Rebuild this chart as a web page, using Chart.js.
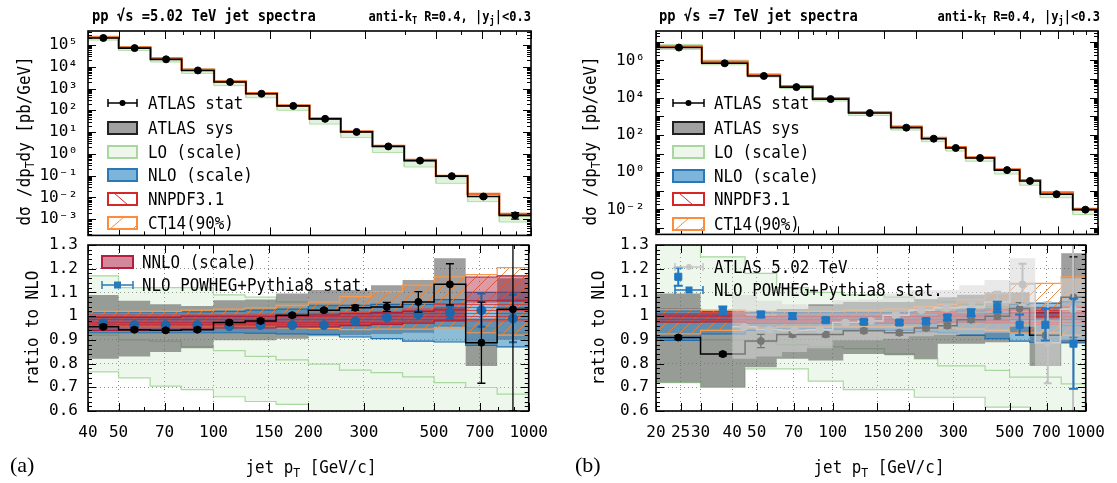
<!DOCTYPE html>
<html>
<head>
<meta charset="utf-8">
<script src="https://cdn.jsdelivr.net/npm/chart.js@4.4.1/dist/chart.umd.min.js"></script>
<style>
  body { margin: 0; background: #fff; width: 1117px; height: 483px; position: relative; overflow: hidden; }
  canvas { position: absolute; }
</style>
</head>
<body>
<canvas id="topA" width="560" height="255" style="left:0;top:0"></canvas>
<canvas id="ratioA" width="560" height="258" style="left:0;top:225px"></canvas>
<canvas id="topB" width="557" height="255" style="left:560px;top:0"></canvas>
<canvas id="ratioB" width="557" height="258" style="left:560px;top:225px"></canvas>
<script>
const FONT = 'DejaVu Sans Mono';

// ---- (a) pp 5.02 TeV ----
const edgesA = [40, 50, 63, 79, 100, 126, 158, 200, 251, 316, 398, 501, 631, 794, 1000];
const specA = [2.1e5, 7.2e4, 2.2e4, 6.8e3, 2.0e3, 580, 160, 40.5, 10.2, 2.2, 0.49, 0.095, 0.011, 1.5e-3];
const specErrA = [3e3, 1e3, 300, 90, 25, 7, 2, 0.5, 0.13, 0.04, 0.012, 0.004, 0.0012, 0.0005];
const loTopHiA = [2.57e5, 8.55e4, 2.6e4, 8.1e3, 2.24e3, 640, 169, 41, 10.05, 2.12, 0.453, 0.080, 0.0118, 1.36e-3];
const loTopLoA = [1.68e5, 5.65e4, 1.65e4, 4.98e3, 1.36e3, 379, 100, 23.3, 5.6, 1.16, 0.25, 0.0444, 0.0064, 7.4e-4];
const ct14TopA = [2.24e5, 7.79e4, 2.39e4, 7.39e3, 2.12e3, 613, 166.5, 41.9, 10.66, 2.34, 0.523, 0.0977, 0.01456, 1.76e-3];

const ratioA = [0.955, 0.943, 0.940, 0.943, 0.973, 0.980, 1.004, 1.025, 1.035, 1.039, 1.060, 1.134, 0.888, 1.029];
const ratioErrA = [0.008, 0.007, 0.007, 0.007, 0.008, 0.008, 0.008, 0.007, 0.011, 0.019, 0.043, 0.087, 0.171, 0.6];
const sysHiA = [1.089, 1.065, 1.05, 1.043, 1.067, 1.07, 1.096, 1.11, 1.11, 1.13, 1.152, 1.244, 0.99, 1.16];
const sysLoA = [0.82, 0.83, 0.849, 0.865, 0.898, 0.898, 0.905, 0.915, 0.92, 0.925, 0.93, 0.955, 0.79, 0.9];
const nloHiA = [1.018, 1.018, 1.018, 1.018, 1.02, 1.025, 1.03, 1.046, 1.046, 1.05, 1.05, 1.07, 1.10, 1.10];
const nloLoA = [0.93, 0.93, 0.93, 0.93, 0.93, 0.928, 0.925, 0.923, 0.912, 0.905, 0.895, 0.891, 0.877, 0.87];
const loHiA = [1.17, 1.12, 1.12, 1.12, 1.09, 1.08, 1.06, 1.04, 1.02, 1.0, 0.98, 0.96, 0.95, 0.93];
const loLoA = [0.765, 0.74, 0.705, 0.69, 0.66, 0.64, 0.628, 0.59, 0.57, 0.55, 0.54, 0.53, 0.52, 0.51];
const loMidA = [0.92, 0.90, 0.895, 0.87, 0.855, 0.83, 0.816, 0.798, 0.772, 0.762, 0.744, 0.72, 0.699, 0.671];
const ct14HiA = [1.02, 1.02, 1.02, 1.025, 1.03, 1.035, 1.045, 1.06, 1.082, 1.103, 1.131, 1.166, 1.175, 1.205];
const ct14LoA = [0.955, 0.955, 0.955, 0.955, 0.955, 0.955, 0.95, 0.948, 0.943, 0.945, 0.945, 0.95, 0.93, 0.92];
const nnpdfHiA = [1.005, 1.005, 1.005, 1.005, 1.005, 1.008, 1.01, 1.012, 1.015, 1.02, 1.03, 1.053, 1.06, 1.07];
const nnpdfLoA = [0.965, 0.965, 0.965, 0.965, 0.965, 0.965, 0.965, 0.965, 0.965, 0.97, 0.975, 0.983, 0.98, 0.98];
const nnloHiA = [0.995, 0.995, 0.995, 1.0, 1.0, 1.0, 1.0, 1.005, 1.01, 1.015, 1.02, 1.03, 1.165, 1.17];
const nnloLoA = [0.94, 0.94, 0.94, 0.945, 0.95, 0.95, 0.955, 0.955, 0.96, 0.965, 0.97, 0.98, 1.065, 1.065];
const powhegA = [0.969, 0.962, 0.962, 0.962, 0.957, 0.962, 0.962, 0.962, 0.978, 0.994, 1.008, 1.015, 1.025, 0.99];
const powhegErrA = [0.008, 0.005, 0.005, 0.005, 0.005, 0.005, 0.005, 0.006, 0.008, 0.01, 0.012, 0.025, 0.07, 0.1];

// ---- (b) pp 7 TeV ----
const edgesB = [20, 30, 45, 60, 80, 110, 160, 210, 260, 310, 400, 500, 600, 800, 1000];
const specB = [4.9e6, 7.0e5, 1.47e5, 3.7e4, 8.4e3, 1.5e3, 247, 63, 20, 5.8, 1.3, 0.34, 0.066, 0.0098];
const specErrB = [3e5, 3e4, 5e3, 1.2e3, 250, 45, 7, 2, 0.6, 0.18, 0.04, 0.012, 0.003, 0.0007];
const loTopHiB = [7.3e6, 1.04e6, 1.94e5, 4.5e4, 1.0e4, 1.74e3, 287, 71, 22, 6.2, 1.35, 0.34, 0.073, 0.0091];
const loTopLoB = [3.9e6, 5.8e5, 1.28e5, 3.1e4, 6.6e3, 1.1e3, 183, 43.6, 13.7, 3.9, 0.8, 0.2, 0.043, 0.0054];
const ct14TopB = [5.55e6, 8.54e5, 1.675e5, 4.09e4, 9.28e3, 1.64e3, 273.6, 69, 21.9, 6.3, 1.42, 0.375, 0.0817, 0.01058];

const ratioB = [0.91, 0.84, 0.895, 0.923, 0.923, 0.938, 0.93, 0.95, 0.96, 0.985, 1.0, 1.032, 0.919, 1.08];
const ratioErrB = [0.008, 0.008, 0.028, 0.01, 0.01, 0.01, 0.01, 0.01, 0.01, 0.01, 0.012, 0.025, 0.03, 0.17];
const sysHiB = [1.096, 1.02, 1.0, 1.03, 1.05, 1.06, 1.06, 1.07, 1.08, 1.09, 1.10, 1.10, 1.04, 1.265];
const sysLoB = [0.72, 0.70, 0.785, 0.82, 0.813, 0.84, 0.835, 0.82, 0.884, 0.884, 0.89, 0.93, 0.79, 0.884];
const nloHiB = [1.032, 1.02, 1.015, 1.015, 1.015, 1.015, 1.015, 1.02, 1.02, 1.025, 1.03, 1.05, 1.055, 1.06];
const nloLoB = [0.898, 0.925, 0.94, 0.945, 0.945, 0.945, 0.94, 0.935, 0.93, 0.919, 0.905, 0.895, 0.89, 0.89];
const loHiB = [1.35, 1.25, 1.18, 1.12, 1.10, 1.09, 1.08, 1.07, 1.06, 1.05, 1.04, 1.03, 1.02, 1.0];
const loLoB = [0.72, 0.70, 0.778, 0.778, 0.726, 0.69, 0.69, 0.658, 0.658, 0.658, 0.616, 0.616, 0.60, 0.59];
const loMidB = [0.92, 0.90, 0.89, 0.88, 0.87, 0.863, 0.841, 0.82, 0.79, 0.79, 0.771, 0.743, 0.743, 0.714];
const ct14HiB = [1.03, 1.025, 1.02, 1.02, 1.02, 1.025, 1.03, 1.04, 1.05, 1.07, 1.095, 1.138, 1.138, 1.166];
const ct14LoB = [0.925, 0.94, 0.95, 0.955, 0.955, 0.955, 0.955, 0.95, 0.95, 0.945, 0.94, 0.93, 0.93, 0.92];
const nnpdfHiB = [1.02, 1.015, 1.01, 1.01, 1.01, 1.01, 1.01, 1.015, 1.015, 1.02, 1.025, 1.03, 1.035, 1.04];
const nnpdfLoB = [0.975, 0.98, 0.98, 0.98, 0.98, 0.98, 0.98, 0.98, 0.975, 0.975, 0.97, 0.97, 0.965, 0.96];
const nnloHiB = [1.005, 1.005, 1.0, 1.0, 1.0, 1.0, 1.0, 1.0, 1.005, 1.005, 1.01, 1.015, 1.015, 1.015];
const nnloLoB = [0.975, 0.975, 0.97, 0.97, 0.97, 0.97, 0.97, 0.97, 0.975, 0.975, 0.98, 0.985, 0.985, 0.985];
const powhegB = [1.166, 1.025, 1.007, 1.0, 0.983, 0.976, 0.973, 0.979, 0.994, 1.015, 1.039, 0.964, 0.964, 0.884];
const powhegErrB = [0.038, 0.016, 0.012, 0.012, 0.008, 0.008, 0.008, 0.01, 0.012, 0.014, 0.022, 0.043, 0.067, 0.19];

// ---- ticks ----
const xTicksA = [40, 50, 70, 100, 150, 200, 300, 500, 700, 1000];
const xTicksB = [20, 25, 30, 40, 50, 70, 100, 150, 200, 300, 500, 700, 1000];
const yTicksTopA = [1e-3, 1e-2, 1e-1, 1, 10, 100, 1e3, 1e4, 1e5];
const yTicksTopB = [1e-2, 1, 1e2, 1e4, 1e6];
const yTicksRatio = [0.6, 0.7, 0.8, 0.9, 1.0, 1.1, 1.2, 1.3];

// ---- helpers ----
const step = (edges, vals) => vals.flatMap((v, i) => [{x: edges[i], y: v}, {x: edges[i + 1], y: v}]);
const centers = edges => edges.slice(0, -1).map((e, i) => Math.sqrt(e * edges[i + 1]));

function band(edges, lo, hi, fill, border, bw) {
  return [
    {data: step(edges, lo), borderColor: border, borderWidth: bw, fill: false},
    {data: step(edges, hi), borderColor: border, borderWidth: bw, backgroundColor: fill, fill: '-1'}
  ];
}
function line(edges, vals, color, w) {
  return {data: step(edges, vals), borderColor: color, borderWidth: w, fill: false};
}
function points(edges, vals, err, color, style, r, capW, errW) {
  return {
    data: centers(edges).map((x, i) => ({x, y: vals[i]})),
    showLine: false, pointRadius: r, pointStyle: style,
    pointBackgroundColor: color, pointBorderColor: color,
    err, errColor: color, capW, errW
  };
}
function hatch(color, kind, s) {
  const c = document.createElement('canvas');
  c.width = c.height = s;
  const g = c.getContext('2d');
  g.strokeStyle = color; g.lineWidth = 1;
  g.beginPath();
  if (kind === '/') {
    g.moveTo(0, s); g.lineTo(s, 0);
    g.moveTo(-1, 1); g.lineTo(1, -1);
    g.moveTo(s - 1, s + 1); g.lineTo(s + 1, s - 1);
  } else {
    g.moveTo(0, s / 2); g.lineTo(s, s / 2);
  }
  g.stroke();
  return g.createPattern(c, 'repeat');
}
function logMinors(min, max) {
  const out = [];
  for (let e = Math.floor(Math.log10(min)); e <= Math.ceil(Math.log10(max)); e++)
    for (let k = 1; k < 10; k++) { const v = k * Math.pow(10, e); if (v >= min && v <= max) out.push(v); }
  return out;
}
function decades(min, max) {
  const out = [];
  for (let e = Math.ceil(Math.log10(min)); e <= Math.floor(Math.log10(max)); e++) out.push(Math.pow(10, e));
  return out;
}
const SUP = {'-': '⁻', '0': '⁰', '1': '¹', '2': '²', '3': '³', '4': '⁴', '5': '⁵', '6': '⁶', '7': '⁷', '8': '⁸', '9': '⁹'};
const supLabel = v => '10' + String(Math.round(Math.log10(v))).split('').map(c => SUP[c]).join('');

function rich(ctx, parts, x, y, o) {
  const size = o.size || 18, sx = o.sx || 1, wt = o.bold ? 'bold ' : '';
  const fam = o.family || FONT;
  const fontFor = p => wt + (p[1] ? Math.round(size * 0.7) : size) + 'px "' + fam + '"';
  let w = 0;
  parts.forEach(p => { ctx.font = fontFor(p); w += ctx.measureText(p[0]).width; });
  ctx.save();
  ctx.translate(x, y);
  if (o.rot) ctx.rotate(o.rot);
  ctx.scale(sx, 1);
  let cx = o.align === 'center' ? -w / 2 : o.align === 'right' ? -w : 0;
  ctx.textBaseline = 'middle';
  ctx.fillStyle = '#000';
  parts.forEach(p => {
    ctx.font = fontFor(p);
    const dy = p[1] === 'sub' ? size * 0.32 : p[1] === 'sup' ? -size * 0.35 : 0;
    ctx.fillText(p[0], cx, dy);
    cx += ctx.measureText(p[0]).width;
  });
  ctx.restore();
}

function drawLegend(ctx, L, ox, oy) {
  L.items.forEach(it => {
    const y = it.y - oy, x0 = L.x0 - ox, x1 = L.x1 - ox, cx = (x0 + x1) / 2;
    if (it.kind === 'err') {
      ctx.strokeStyle = it.color; ctx.lineWidth = 1.5;
      ctx.beginPath();
      ctx.moveTo(x0, y); ctx.lineTo(x1, y);
      ctx.moveTo(x0, y - 4); ctx.lineTo(x0, y + 4);
      ctx.moveTo(x1, y - 4); ctx.lineTo(x1, y + 4);
      ctx.stroke();
      ctx.fillStyle = it.color;
      ctx.beginPath();
      if (it.marker === 'rect') ctx.rect(cx - 3.5, y - 3.5, 7, 7); else ctx.arc(cx, y, 3, 0, 2 * Math.PI);
      ctx.fill();
    } else {
      ctx.fillStyle = it.fill;
      ctx.fillRect(x0, y - 6, x1 - x0, 12);
      if (it.hatch) {
        ctx.strokeStyle = it.stroke; ctx.lineWidth = 1;
        ctx.beginPath();
        if (it.hatch === '/') { ctx.moveTo(x0 + 2, y + 6); ctx.lineTo(x0 + 16, y - 6); ctx.moveTo(x1 - 4, y + 6); ctx.lineTo(x1, y + 2); }
        else { ctx.moveTo(x0 + 6, y - 6); ctx.lineTo(x0 + 20, y + 6); }
        ctx.stroke();
      }
      ctx.strokeStyle = it.stroke; ctx.lineWidth = 2;
      ctx.strokeRect(x0, y - 6, x1 - x0, 12);
    }
    rich(ctx, [[it.text]], L.tx - ox, y + 1, {size: 18, sx: 0.88});
  });
}

const ratioMinors = Array.from({length: 36}, (_, i) => (30 + i) * 0.02);

const DECO = {
  topA: {
    off: [0, 0], xMajor: xTicksA, xMinor: logMinors(40, 1000),
    yMajor: decades(1.8e-4, 4.4e5), yMinor: logMinors(1.8e-4, 4.4e5),
    texts: [
      {parts: [['pp '], ['√s'], [' =5.02 TeV jet spectra']], x: 92, y: 17, size: 16, sx: 0.86, bold: true},
      {parts: [['anti-k'], ['T', 'sub'], [' R=0.4, |y'], ['j', 'sub'], ['|<0.3']], x: 531, y: 17, size: 14, sx: 0.86, bold: true, align: 'right'},
      {parts: [['dσ /dp'], ['T', 'sub'], ['dy [pb/GeV]']], x: 25, y: 141, rot: -Math.PI / 2, align: 'center', sx: 0.88}
    ],
    legend: {x0: 108, x1: 137, tx: 148, items: [
      {kind: 'err', y: 103, color: '#000', marker: 'circle', text: 'ATLAS stat'},
      {kind: 'box', y: 128, fill: '#a0a0a0', stroke: '#222', text: 'ATLAS sys'},
      {kind: 'box', y: 152, fill: '#eef6ec', stroke: '#a8d8a0', text: 'LO (scale)'},
      {kind: 'box', y: 175, fill: '#7db4da', stroke: '#2a78b8', text: 'NLO (scale)'},
      {kind: 'box', y: 199, fill: '#fff', stroke: '#d62728', hatch: '\\', text: 'NNPDF3.1'},
      {kind: 'box', y: 223, fill: '#fff', stroke: '#fd8d3c', hatch: '/', text: 'CT14(90%)'}
    ]}
  },
  ratioA: {
    off: [0, 225], xMajor: xTicksA, xMinor: logMinors(40, 1000),
    yMajor: yTicksRatio, yMinor: ratioMinors,
    texts: [
      {parts: [['ratio to NLO']], x: 33, y: 328, rot: -Math.PI / 2, align: 'center', sx: 0.88},
      {parts: [['jet p'], ['T', 'sub'], [' [GeV/c]']], x: 311, y: 468, align: 'center', sx: 0.88},
      {parts: [['(a)']], x: 10, y: 466, size: 22, family: 'Liberation Serif'}
    ],
    legend: {x0: 102, x1: 133, tx: 142, items: [
      {kind: 'box', y: 262, fill: '#d3899b', stroke: '#b51f3f', text: 'NNLO (scale)'},
      {kind: 'err', y: 285, color: '#2b7bba', marker: 'rect', text: 'NLO POWHEG+Pythia8 stat.'}
    ]}
  },
  topB: {
    off: [560, 0], xMajor: xTicksB, xMinor: logMinors(20, 1000),
    yMajor: decades(4.6e-4, 3.8e7), yMinor: logMinors(4.6e-4, 3.8e7),
    texts: [
      {parts: [['pp '], ['√s'], [' =7 TeV jet spectra']], x: 659, y: 17, size: 16, sx: 0.86, bold: true},
      {parts: [['anti-k'], ['T', 'sub'], [' R=0.4, |y'], ['j', 'sub'], ['|<0.3']], x: 1100, y: 17, size: 14, sx: 0.86, bold: true, align: 'right'},
      {parts: [['dσ /dp'], ['T', 'sub'], ['dy [pb/GeV]']], x: 591, y: 141, rot: -Math.PI / 2, align: 'center', sx: 0.88}
    ],
    legend: {x0: 673, x1: 704, tx: 714, items: [
      {kind: 'err', y: 103, color: '#000', marker: 'circle', text: 'ATLAS stat'},
      {kind: 'box', y: 128, fill: '#a0a0a0', stroke: '#222', text: 'ATLAS sys'},
      {kind: 'box', y: 152, fill: '#eef6ec', stroke: '#a8d8a0', text: 'LO (scale)'},
      {kind: 'box', y: 176, fill: '#7db4da', stroke: '#2a78b8', text: 'NLO (scale)'},
      {kind: 'box', y: 199, fill: '#fff', stroke: '#d62728', hatch: '\\', text: 'NNPDF3.1'},
      {kind: 'box', y: 224, fill: '#fff', stroke: '#fd8d3c', hatch: '/', text: 'CT14(90%)'}
    ]}
  },
  ratioB: {
    off: [560, 225], xMajor: xTicksB, xMinor: logMinors(20, 1000),
    yMajor: yTicksRatio, yMinor: ratioMinors,
    texts: [
      {parts: [['ratio to NLO']], x: 599, y: 328, rot: -Math.PI / 2, align: 'center', sx: 0.88},
      {parts: [['jet p'], ['T', 'sub'], [' [GeV/c]']], x: 879, y: 468, align: 'center', sx: 0.88},
      {parts: [['(b)']], x: 575, y: 466, size: 22, family: 'Liberation Serif'}
    ],
    legend: {x0: 675, x1: 703, tx: 714, items: [
      {kind: 'err', y: 267, color: '#c6c6c6', marker: 'circle', text: 'ATLAS 5.02 TeV'},
      {kind: 'err', y: 290, color: '#1f78c1', marker: 'rect', text: 'NLO POWHEG+Pythia8 stat.'}
    ]}
  }
};

// error bars under the markers
const errPlugin = {
  id: 'errbars',
  beforeDatasetDraw(chart, args) {
    const ds = chart.data.datasets[args.index];
    if (!ds.err) return;
    const {ctx, chartArea: a} = chart, x = chart.scales.x, y = chart.scales.y;
    ctx.save();
    ctx.beginPath(); ctx.rect(a.left, a.top, a.right - a.left, a.bottom - a.top); ctx.clip();
    ctx.strokeStyle = ds.errColor; ctx.lineWidth = ds.errW || 1.3;
    const half = (ds.capW || 8) / 2;
    ctx.beginPath();
    ds.data.forEach((p, i) => {
      const e = ds.err[i];
      const px = x.getPixelForValue(p.x);
      const lo = Math.max(p.y - e, y.min);
      const y0 = y.getPixelForValue(lo), y1 = y.getPixelForValue(p.y + e);
      ctx.moveTo(px, y0); ctx.lineTo(px, y1);
      ctx.moveTo(px - half, y0); ctx.lineTo(px + half, y0);
      ctx.moveTo(px - half, y1); ctx.lineTo(px + half, y1);
    });
    ctx.stroke();
    ctx.restore();
  }
};

// frame, inner ticks, rich text labels and legends
const deco = {
  id: 'deco',
  afterDraw(chart) {
    const d = DECO[chart.canvas.id];
    if (!d) return;
    const ctx = chart.ctx, a = chart.chartArea, sx = chart.scales.x, sy = chart.scales.y;
    ctx.save();
    ctx.strokeStyle = '#000'; ctx.lineWidth = 1;
    ctx.beginPath();
    const vt = (v, len) => {
      const p = Math.round(sx.getPixelForValue(v)) + 0.5;
      if (p < a.left - 1 || p > a.right + 1) return;
      ctx.moveTo(p, a.bottom); ctx.lineTo(p, a.bottom - len);
      ctx.moveTo(p, a.top); ctx.lineTo(p, a.top + len);
    };
    const ht = (v, len) => {
      const p = Math.round(sy.getPixelForValue(v)) + 0.5;
      if (p < a.top - 1 || p > a.bottom + 1) return;
      ctx.moveTo(a.left, p); ctx.lineTo(a.left + len, p);
      ctx.moveTo(a.right, p); ctx.lineTo(a.right - len, p);
    };
    d.xMinor.forEach(v => vt(v, 4)); d.xMajor.forEach(v => vt(v, 8));
    d.yMinor.forEach(v => ht(v, 4)); d.yMajor.forEach(v => ht(v, 8));
    ctx.stroke();
    ctx.lineWidth = 1.6;
    ctx.strokeRect(a.left, a.top, a.right - a.left, a.bottom - a.top);
    const [ox, oy] = d.off;
    d.texts.forEach(t => rich(ctx, t.parts, t.x - ox, t.y - oy, t));
    drawLegend(ctx, d.legend, ox, oy);
    ctx.restore();
  }
};

Chart.register(errPlugin, deco);
Chart.defaults.animation = false;
Chart.defaults.font.family = FONT;
Chart.defaults.elements.point.radius = 0;
Chart.defaults.elements.line.tension = 0;
Chart.defaults.plugins.legend.display = false;
Chart.defaults.plugins.tooltip.enabled = false;

function xScale(min, max, ticks, labels) {
  return {
    type: 'logarithmic', min, max, bounds: 'data',
    afterBuildTicks: s => { s.ticks = ticks.map(v => ({value: v})); },
    ticks: {display: labels, autoSkip: false, maxRotation: 0, padding: 12, color: '#000',
      font: {family: FONT, size: 16}, callback: v => String(v)},
    grid: {display: labels, drawTicks: false, color: '#8c8c8c', lineWidth: 1},
    border: {display: false, dash: [1, 3]},
    afterFit: s => { s.height = labels ? 72 : 0; }
  };
}
function yLog(min, max, ticks, width, pad) {
  return {
    type: 'logarithmic', min, max, bounds: 'data',
    afterBuildTicks: s => { s.ticks = ticks.map(v => ({value: v})); },
    ticks: {padding: pad, color: '#000', font: {family: FONT, size: 16}, callback: supLabel},
    grid: {display: false, drawTicks: false},
    border: {display: false},
    afterFit: s => { s.width = width; }
  };
}
function yRatio(width, pad) {
  return {
    type: 'linear', min: 0.6, max: 1.3, bounds: 'data',
    afterBuildTicks: s => { s.ticks = yTicksRatio.map(v => ({value: v})); },
    ticks: {padding: pad, color: '#000', font: {family: FONT, size: 16},
      callback: v => Math.abs(v - 1) < 1e-9 ? '1' : v.toFixed(1)},
    grid: {drawTicks: false, color: '#8c8c8c', lineWidth: 1},
    border: {display: false, dash: [1, 3]},
    afterFit: s => { s.width = width; }
  };
}

function makeChart(id, list, scales, padding) {
  const datasets = list.flat();
  const n = datasets.length;
  datasets.forEach((d, i) => { d.order = n - i; });
  return new Chart(document.getElementById(id), {
    type: 'line',
    data: {datasets},
    options: {
      responsive: false, events: [],
      layout: {padding},
      scales
    }
  });
}

const clear = 'rgba(0,0,0,0)';
const ct14Fill = hatch('rgba(240,130,50,0.9)', '/', 12);
const nnpdfFill = hatch('rgba(222,40,40,0.75)', '-', 3);

// (a) spectrum
makeChart('topA', [
  band(edgesA, loTopLoA, loTopHiA, 'rgba(170,220,160,0.35)', '#b5e0ab', 1),
  line(edgesA, ct14TopA, '#f06a28', 2.4),
  line(edgesA, specA, '#000', 1.6),
  points(edgesA, specA, specErrA, '#000', 'circle', 3.5, 8, 1.3)
], {x: xScale(40, 1000, xTicksA, false), y: yLog(1.8e-4, 4.4e5, yTicksTopA, 88, 10)},
{top: 31, right: 29, bottom: 10, left: 0});

// (a) ratio
makeChart('ratioA', [
  band(edgesA, loLoA, loHiA, 'rgba(185,222,175,0.25)', '#a9d9a0', 1.2),
  line(edgesA, loMidA, '#a9d9a0', 1.2),
  band(edgesA, sysLoA, sysHiA, 'rgba(95,95,95,0.6)', clear, 0),
  band(edgesA, nloLoA, nloHiA, 'rgba(45,130,195,0.5)', '#1f6aa8', 1.2),
  band(edgesA, ct14LoA, ct14HiA, ct14Fill, '#f59a4e', 1.2),
  band(edgesA, nnpdfLoA, nnpdfHiA, nnpdfFill, '#e0403a', 1),
  band(edgesA, nnloLoA, nnloHiA, 'rgba(180,30,60,0.45)', '#a8203a', 1.2),
  line(edgesA, ratioA, '#000', 1.5),
  points(edgesA, powhegA, powhegErrA, '#1c66aa', 'circle', 4.5, 8, 2),
  points(edgesA, ratioA, ratioErrA, '#000', 'circle', 3.5, 8, 1.3)
], {x: xScale(40, 1000, xTicksA, true), y: yRatio(88, 10)},
{top: 20, right: 29, bottom: 0, left: 0});

// (b) spectrum
makeChart('topB', [
  band(edgesB, loTopLoB, loTopHiB, 'rgba(170,220,160,0.35)', '#b5e0ab', 1),
  line(edgesB, ct14TopB, '#f06a28', 2.4),
  line(edgesB, specB, '#000', 1.6),
  points(edgesB, specB, specErrB, '#000', 'circle', 3.5, 8, 1.3)
], {x: xScale(20, 1000, xTicksB, false), y: yLog(4.6e-4, 3.8e7, yTicksTopB, 96, 11)},
{top: 31, right: 19, bottom: 10, left: 0});

// (b) ratio, with the 5.02 TeV data overlaid
makeChart('ratioB', [
  band(edgesB, loLoB, loHiB, 'rgba(185,222,175,0.25)', '#a9d9a0', 1.2),
  line(edgesB, loMidB, '#a9d9a0', 1.2),
  band(edgesB, sysLoB, sysHiB, 'rgba(95,95,95,0.6)', clear, 0),
  band(edgesB, nloLoB, nloHiB, 'rgba(45,130,195,0.5)', '#1f6aa8', 1.2),
  band(edgesB, ct14LoB, ct14HiB, ct14Fill, '#f59a4e', 1.2),
  band(edgesB, nnpdfLoB, nnpdfHiB, nnpdfFill, '#e0403a', 1),
  band(edgesB, nnloLoB, nnloHiB, 'rgba(180,30,60,0.4)', '#a8203a', 1),
  line(edgesB, ratioB, '#000', 1.5),
  points(edgesB, ratioB, ratioErrB, '#000', 'circle', 3.5, 8, 1.3),
  band(edgesA, sysLoA, sysHiA, 'rgba(215,215,215,0.55)', clear, 0),
  line(edgesA, ratioA, '#cfcfcf', 1.5),
  points(edgesA, ratioA, ratioErrA, '#c2c2c2', 'circle', 3.5, 8, 2),
  points(edgesB, powhegB, powhegErrB, '#1f78c1', 'rect', 5, 9, 2)
], {x: xScale(20, 1000, xTicksB, true), y: yRatio(96, 7)},
{top: 20, right: 19, bottom: 0, left: 0});
</script>
</body>
</html>
